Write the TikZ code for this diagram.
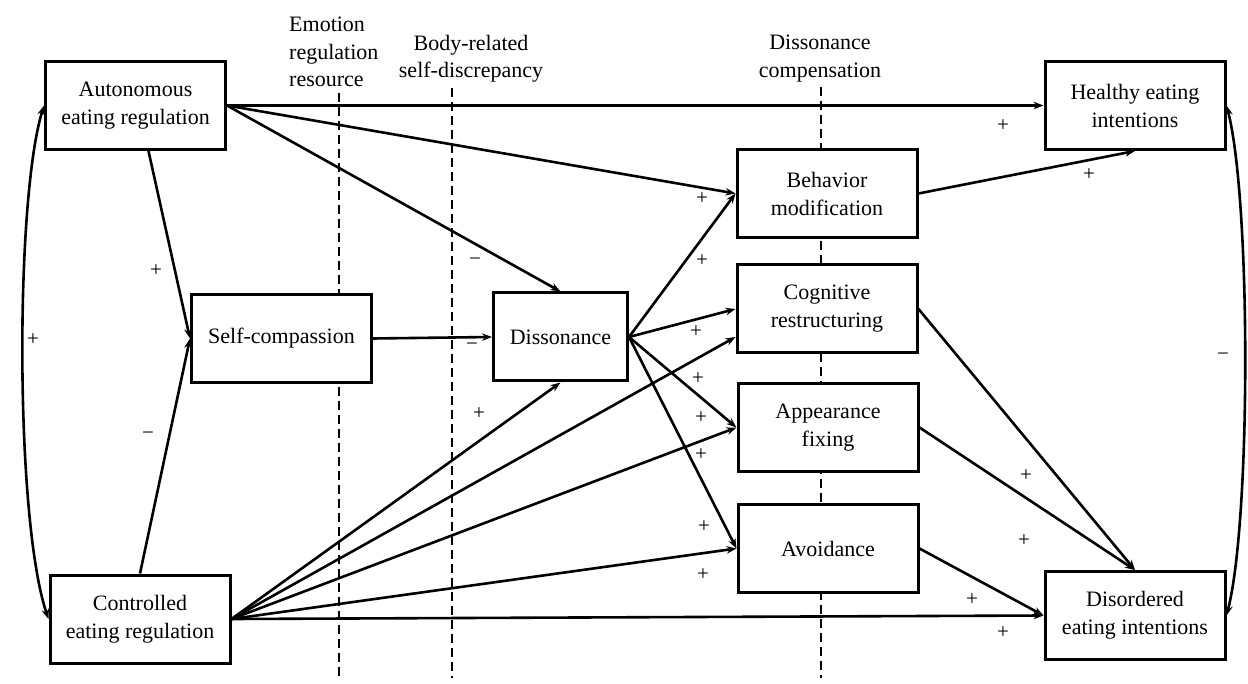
\documentclass[tikz,border=0pt]{standalone}
\usepackage{fontspec}
\setmainfont{Liberation Serif}
\usetikzlibrary{arrows.meta}

\begin{document}
\begin{tikzpicture}[x=1pt,y=-1pt,
  box/.style={draw, line width=3pt, fill=white, minimum width=180pt,
    minimum height=88pt, inner sep=2pt, align=center,
    font=\fontsize{22}{28}\selectfont},
  arr/.style={line width=2.6pt, -{Stealth[length=10pt,width=7.5pt]}},
  biarr/.style={line width=2.6pt, {Stealth[length=10pt,width=7.5pt]}-{Stealth[length=10pt,width=7.5pt]}},
  divider/.style={line width=2.4pt, dash pattern=on 9pt off 5pt},
  header/.style={inner sep=0pt, anchor=north, align=center,
    font=\fontsize{22}{27.5}\selectfont},
  sign/.style={inner sep=0pt, font=\fontsize{21}{21}\selectfont}]

\useasboundingbox (0,0) rectangle (1248,684);

% stage dividers
\coordinate (d1t) at (339,93);  \coordinate (d1b) at (339,678);
\coordinate (d2t) at (452,88);  \coordinate (d2b) at (452,678);
\coordinate (d3t) at (821,87);  \coordinate (d3b) at (821,678);
\draw[divider] (d1t) -- (d1b);
\draw[divider] (d2t) -- (d2b);
\draw[divider] (d3t) -- (d3b);

% stage headers
\node[header, anchor=north west, align=left] (h1) at (289,17) {Emotion\\regulation\\resource};
\node[header] (h2) at (471,35) {Body-related\\self-discrepancy};
\node[header] (h3) at (820,35) {Dissonance\\compensation};

% constructs
\node[box] (aut) at (135.5,105.5) {Autonomous\\eating regulation};
\node[box] (con) at (140,619) {Controlled\\eating regulation};
\node[box] (self) at (281.5,338.5) {Self-compassion};
\node[box, minimum width=134pt] (diss) at (560.5,337) {Dissonance};
\node[box] (beh) at (827,193.5) {Behavior\\modification};
\node[box] (cog) at (827,309) {Cognitive\\restructuring};
\node[box] (app) at (828,427.5) {Appearance\\fixing};
\node[box] (avo) at (828,548.5) {Avoidance};
\node[box] (hea) at (1135,105.5) {Healthy eating\\intentions};
\node[box] (dis) at (1135,615.5) {Disordered\\eating intentions};

% paths from autonomous regulation
\draw[arr] (aut.east) -- (hea.west);
\draw[arr] (aut.east) -- (beh.west);
\draw[arr] (aut.east) -- (diss.north);
\draw[arr] ([xshift=13pt]aut.south) -- (self.west);

% paths from controlled regulation
\draw[arr] (con.north) -- (self.west);
\draw[arr] (con.east) -- (diss.south);
\draw[arr] (con.east) -- ([yshift=-28pt]cog.west);
\draw[arr] (con.east) -- (app.west);
\draw[arr] (con.east) -- (avo.west);
\draw[arr] (con.east) -- (dis.west);

% self-compassion and dissonance
\draw[arr] (self.east) -- (diss.west);
\draw[arr] (diss.east) -- (beh.west);
\draw[arr] (diss.east) -- (cog.west);
\draw[arr] (diss.east) -- (app.west);
\draw[arr] (diss.east) -- (avo.west);

% compensation strategies to outcomes
\draw[arr] (beh.east) -- (hea.south);
\draw[arr] (cog.east) -- (dis.north);
\draw[arr] (app.east) -- (dis.north);
\draw[arr] (avo.east) -- (dis.west);

% covariances
\draw[biarr] (aut.west) .. controls (15,200) and (15,520) .. (con.west);
\draw[biarr] (hea.east) .. controls (1251,200) and (1251,520) .. (dis.east);

% path signs
\node[sign] (s1) at (1003,126) {+};
\node[sign] (s2) at (702,199) {+};
\node[sign] (s3) at (475,262) {−};
\node[sign] (s4) at (156,271) {+};
\node[sign] (s5) at (148,436) {−};
\node[sign] (s6) at (472,347) {−};
\node[sign] (s7) at (479,414) {+};
\node[sign] (s8) at (702,261) {+};
\node[sign] (s9) at (696,332) {+};
\node[sign] (s10) at (698,379) {+};
\node[sign] (s11) at (701,418) {+};
\node[sign] (s12) at (701,455) {+};
\node[sign] (s13) at (704,527) {+};
\node[sign] (s14) at (703,575) {+};
\node[sign] (s15) at (1089,175) {+};
\node[sign] (s16) at (1026,476) {+};
\node[sign] (s17) at (1024,541) {+};
\node[sign] (s18) at (972,600) {+};
\node[sign] (s19) at (1003,633) {+};
\node[sign] (s20) at (33,340) {+};
\node[sign] (s21) at (1223,357) {−};
\end{tikzpicture}
\end{document}
